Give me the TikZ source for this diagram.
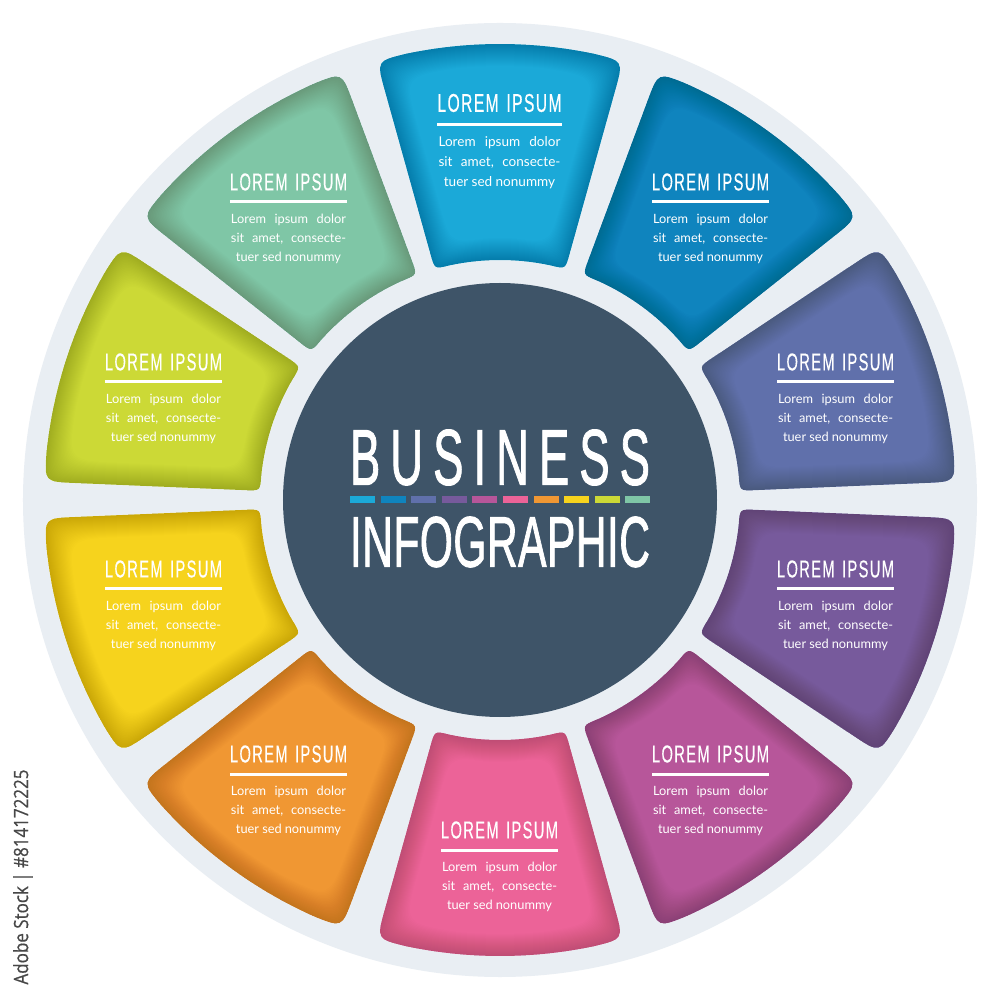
\documentclass[tikz,border=0pt]{standalone}
\usepackage{graphicx}
\usepackage{fontspec}
\usetikzlibrary{calc}
\setmainfont{Lato}
\newfontfamily\headfont[LetterSpace=9, FakeBold=0.5]{Liberation Sans}
\newfontfamily\titlefont[LetterSpace=22, FakeBold=1.5]{Liberation Sans}
\newfontfamily\infofont[LetterSpace=1, FakeBold=1.5]{Liberation Sans}
\newfontfamily\stockfont[FakeBold=0.6]{Open Sans}

\definecolor{ringcol}{HTML}{E9EEF3}
\definecolor{hubcol}{HTML}{3E5468}
\definecolor{segA}{HTML}{1BA9D8}
\definecolor{segB}{HTML}{0F84BE}
\definecolor{segC}{HTML}{6070AB}
\definecolor{segD}{HTML}{775A9C}
\definecolor{segE}{HTML}{B7569A}
\definecolor{segF}{HTML}{EC6398}
\definecolor{segG}{HTML}{F09733}
\definecolor{segH}{HTML}{F6D31D}
\definecolor{segI}{HTML}{CCD936}
\definecolor{segJ}{HTML}{7FC6A6}

% segment measures, moved inwards by #1
\newcommand{\setseg}[1]{%
  \pgfmathsetmacro\Ro{456-#1}%
  \pgfmathsetmacro\Ri{240+#1}%
  \pgfmathsetmacro\ao{15.7-#1/\Ro*57.3}%
  \pgfmathsetmacro\ai{15.8-#1/\Ri*57.3}%
  \pgfmathsetmacro\arcO{\ao-(30+#1)/\Ro*57.3}%
  \pgfmathsetmacro\arcI{\ai-(15+#1)/\Ri*57.3}%
  \pgfmathsetmacro\fracO{(30+#1)/(\Ro-\Ri)}%
  \pgfmathsetmacro\fracI{(15+#1)/(\Ro-\Ri)}%
}

% one segment, pointing along angle \ang
\def\segpath{(\ang+\arcO:\Ro) arc[start angle=\ang+\arcO, end angle=\ang-\arcO, radius=\Ro]
  .. controls (\ang-\ao:\Ro) .. ($(\ang-\ao:\Ro)!\fracO!(\ang-\ai:\Ri)$)
  -- ($(\ang-\ai:\Ri)!\fracI!(\ang-\ao:\Ro)$)
  .. controls (\ang-\ai:\Ri) .. (\ang-\arcI:\Ri)
  arc[start angle=\ang-\arcI, end angle=\ang+\arcI, radius=\Ri]
  .. controls (\ang+\ai:\Ri) .. ($(\ang+\ai:\Ri)!\fracI!(\ang+\ao:\Ro)$)
  -- ($(\ang+\ao:\Ro)!\fracO!(\ang+\ai:\Ri)$)
  .. controls (\ang+\ao:\Ro) .. cycle}

\tikzset{
  headtxt/.style={inner sep=0pt, text=white, transform shape},
  bodytxt/.style={inner sep=0pt, text=white, text width=115pt, align=center,
    font=\fontsize{12.8}{19}\selectfont, anchor=north, transform shape},
  headrule/.style={draw=white, line width=3pt},
  glow/.style={fill=black, fill opacity=.0075, even odd rule}
}

\begin{document}
\begin{tikzpicture}[x=1pt,y=1pt]
  \useasboundingbox (-500,-500) rectangle (500,500);
  \fill[white] (-500,-500) rectangle (500,500);

  \fill[ringcol] (0,0) circle[radius=477];
  \fill[hubcol] (0,0) circle[radius=217];

  % segments with their inner shadow
  \foreach \ang/\col in {90/segA,54/segB,18/segC,-18/segD,-54/segE,-90/segF,-126/segG,-162/segH,162/segI,126/segJ}{
    \setseg{0}
    \fill[\col] \segpath;
    \begin{scope}
      \clip \segpath;
      \foreach \w in {1,...,22}{
        \setseg{\w}
        \path[glow] (-500,-500) rectangle (500,500) \segpath;
      }
    \end{scope}
  }

  % texts of the segments
  \foreach \nm/\hx/\hy/\sc in {A/499.5/103/1.06,B/710.5/182/1,C/835.5/362/1,D/835.5/569/1,E/710.5/754/1,
      F/499.5/830/1,G/288.5/754/1,H/163.5/569/1,I/163.5/362/1,J/288.5/182/1}{
    \begin{scope}[shift={(\hx-500,500-\hy)}, scale=\sc]
      \node[headtxt] (head\nm) at (0,0) {\resizebox{117pt}{17pt}{\headfont LOREM\,\,\,IPSUM}};
      \draw[headrule] (-58.5,-20) -- (58.5,-20);
      \node[bodytxt] (body\nm) at (0,-31.5) {\makebox[115pt][s]{Lorem\hfill ipsum\hfill dolor}\\
        \makebox[115pt][s]{sit\hfill amet,\hfill consecte-}\\ \makebox[105pt][s]{tuer\hfill sed\hfill nonummy}};
    \end{scope}
  }

  % title
  \node[inner sep=0pt, text=white] (titleA) at (0,42.5) {\resizebox{300pt}{55pt}{\titlefont BUSINESS}};
  \node[inner sep=0pt, text=white] (titleB) at (0,-42) {\resizebox{300pt}{50pt}{\infofont INFOGRAPHIC}};
  \foreach \i/\col in {0/segA,1/segB,2/segC,3/segD,4/segE,5/segF,6/segG,7/segH,8/segI,9/segJ}
    \fill[\col] (-150+\i*30.6,-3) rectangle ++(25,6.5);

  \node[rotate=90, inner sep=0pt, text=black!72] (stock) at (-477,-377) {\resizebox{215pt}{15pt}{\stockfont Adobe Stock | \#814172225}};
\end{tikzpicture}
\end{document}
